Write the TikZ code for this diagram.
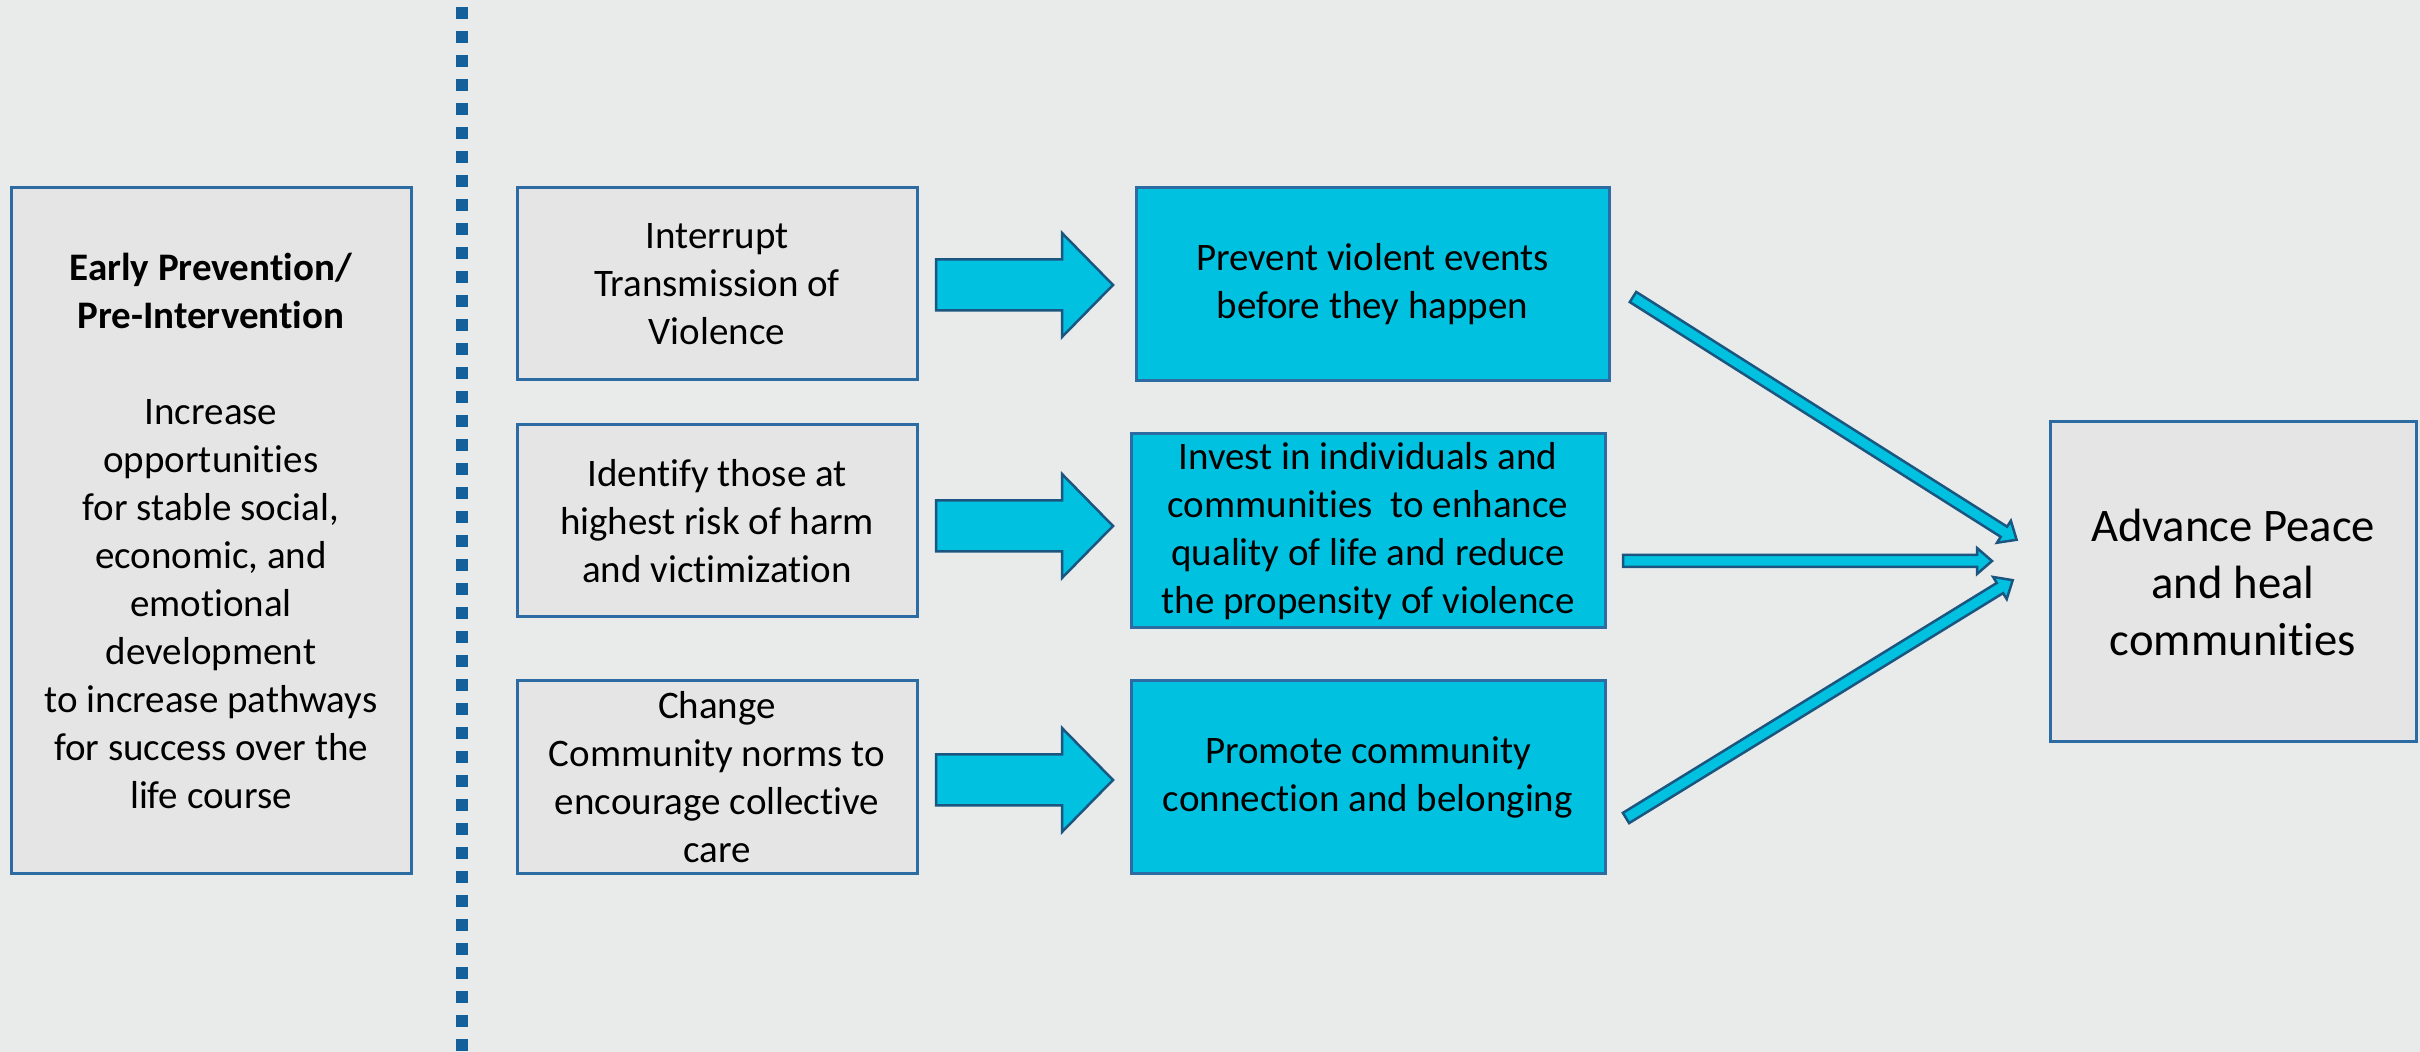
\documentclass[tikz,border=0pt]{standalone}
\usepackage{fontspec}
\setmainfont{Carlito}[Ligatures={NoCommon,NoContextual}]
\definecolor{bgc}{HTML}{E9EBEA}
\definecolor{grayfill}{HTML}{E5E5E5}
\definecolor{boxblue}{HTML}{2C6CA3}
\definecolor{cyanfill}{HTML}{00C2E0}
\definecolor{arrowdark}{HTML}{1B5680}
\definecolor{dotblue}{HTML}{14609A}
\newcommand\fatarrow[7]{%
  \draw[#1, shift={(#2)}, rotate=#3] (0,-#5) -- ({#4-#7},-#5) -- ({#4-#7},-#6) -- (#4,0)
    -- ({#4-#7},#6) -- ({#4-#7},#5) -- (0,#5) -- cycle;}
\def\u{0.3pt}
\tikzset{
  base/.style={draw=boxblue, line width=3*\u, inner sep=0pt, align=center,
    font=\fontsize{11.7pt}{14.4pt}\selectfont, text=black},
  graybox/.style={base, fill=grayfill},
  cyanbox/.style={base, fill=cyanfill},
  blockarrow/.style={fill=cyanfill, draw=arrowdark, line width=2.5*\u},
  thinarrow/.style={fill=cyanfill, draw=arrowdark, line width=2.5*\u},
  divider/.style={draw=dotblue, line width=12*\u, dash pattern=on 12*\u off 12*\u}
}
\begin{document}
\begin{tikzpicture}[x=\u, y=-\u]
\useasboundingbox (0,0) rectangle (2420,1052);
\fill[bgc] (0,0) rectangle (2420,1052);

% divider
\coordinate (dtop) at (462,7);
\coordinate (dbot) at (462,1052);
\draw[divider] (dtop) -- (dbot);

% left box
\node[graybox, minimum width=400*\u, minimum height=686*\u] (early) at (211,531)
 {\textbf{Early Prevention/}\\\textbf{Pre-Intervention}\\[14.4pt]Increase\\opportunities\\for stable social,\\economic, and\\emotional\\development\\to increase pathways\\for success over the\\life course};

% column 2
\node[graybox, minimum width=400*\u, minimum height=192*\u] (c2a) at (717,284)
 {Interrupt\\Transmission of\\Violence};
\node[graybox, minimum width=400*\u, minimum height=192*\u] (c2b) at (717,521)
 {Identify those at\\highest risk of harm\\and victimization};
\node[graybox, minimum width=400*\u, minimum height=193*\u] (c2c) at (717,777.5)
 {Change\\Community norms to\\encourage collective\\care};

% column 3
\node[cyanbox, minimum width=473*\u, minimum height=193*\u] (c3a) at (1372.5,284.5)
 {Prevent violent events\\before they happen};
\node[cyanbox, minimum width=474*\u, minimum height=194*\u] (c3b) at (1368,531)
 {Invest in individuals and\\communities\ \ to enhance\\quality of life and reduce\\the propensity of violence};
\node[cyanbox, minimum width=474*\u, minimum height=193*\u] (c3c) at (1368,777.5)
 {Promote community\\connection and belonging};

% right box
\node[graybox, minimum width=366*\u, minimum height=320*\u,
      font=\fontsize{14pt}{17.1pt}\selectfont] (peace) at (2233,582)
 {Advance Peace\\and heal\\communities};

% block arrows between columns 2 and 3
\coordinate (ba1) at (936,285);
\coordinate (ba2) at (936,526);
\coordinate (ba3) at (936,780);
\fatarrow{blockarrow}{ba1}{0}{177}{25.5}{52}{51}
\fatarrow{blockarrow}{ba2}{0}{177}{25.5}{52}{51}
\fatarrow{blockarrow}{ba3}{0}{177}{25.5}{52}{51}

% thin arrows to the right box
\coordinate (ta1) at (1633,297);
\coordinate (ta2) at (1623,561);
\coordinate (ta3) at (1626,818);
\fatarrow{thinarrow}{ta1}{-32.33}{454}{6}{13}{15}
\fatarrow{thinarrow}{ta2}{0}{369}{6}{13}{15}
\fatarrow{thinarrow}{ta3}{31.59}{454}{6}{13}{15}
\end{tikzpicture}
\end{document}
